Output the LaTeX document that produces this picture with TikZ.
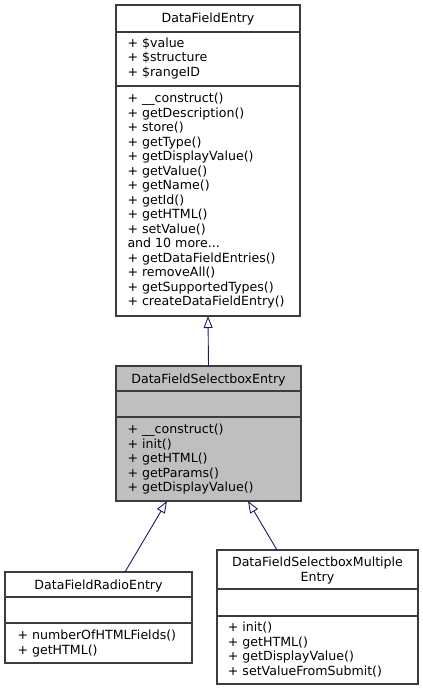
\documentclass[tikz,border=0pt]{standalone}
\usepackage{fontspec}
\setmainfont{DejaVu Sans}
\usetikzlibrary{arrows.meta,calc}
\definecolor{edgecol}{HTML}{191970}
\definecolor{framecol}{HTML}{3C3C3C}
\newcommand\tdots{...}
\newcommand\myrows[4]{\foreach \t [count=\i from 0] in {#4} \node[txt] (#1\i) at (#2,{#3+14.5*\i}) {\t};}
\begin{document}
\begin{tikzpicture}[x=1pt,y=-1pt,
  box/.style={draw=framecol,line width=1.2pt,fill=white,inner sep=0pt,outer sep=0pt,anchor=north west},
  hl/.style={box,fill=black!25},
  sepline/.style={draw=framecol,line width=1.2pt},
  txt/.style={anchor=base west,inner sep=0pt,font=\fontsize{12.6}{14.5}\selectfont},
  ttl/.style={anchor=base,inner sep=0pt,font=\fontsize{12.6}{14.5}\selectfont},
  inh/.style={draw=edgecol,line width=0.9pt,-{Triangle[open,length=12pt,width=9pt,fill=white]}}
]
\useasboundingbox (0,0) rectangle (423,691);

% DataFieldEntry
\node[box,minimum width=184pt,minimum height=311pt] (A) at (116,5) {};
\draw[sepline] (116,32) -- (300,32);
\draw[sepline] (116,86) -- (300,86);
\node[ttl] (At) at (208,22) {DataFieldEntry};
\myrows{Aa}{127.3}{47}{+ \$value,+ \$structure,+ \$rangeID}
\myrows{Am}{127.3}{102.5}{+ \_\_construct(),+ getDescription(),+ store(),+ getType(),+ getDisplayValue(),+ getValue(),+ getName(),+ getId(),+ getHTML(),+ setValue(),and 10 more\tdots,+ getDataFieldEntries(),+ removeAll(),+ getSupportedTypes(),+ createDataFieldEntry()}

% DataFieldSelectboxEntry
\node[hl,minimum width=185pt,minimum height=135pt] (B) at (116,366) {};
\draw[sepline] (116,391) -- (301,391);
\draw[sepline] (116,417) -- (301,417);
\node[ttl] (Bt) at (208.5,383) {DataFieldSelectboxEntry};
\myrows{Bm}{127.3}{433.5}{+ \_\_construct(),+ init(),+ getHTML(),+ getParams(),+ getDisplayValue()}

% DataFieldRadioEntry
\node[box,minimum width=187pt,minimum height=91pt] (C) at (5,572) {};
\draw[sepline] (5,597) -- (192,597);
\draw[sepline] (5,623) -- (192,623);
\node[ttl] (Ct) at (98.5,589) {DataFieldRadioEntry};
\myrows{Cm}{17.3}{639.5}{+ numberOfHTMLFields(),+ getHTML()}

% DataFieldSelectboxMultipleEntry
\node[box,minimum width=201pt,minimum height=134pt] (D) at (217,550) {};
\draw[sepline] (217,589) -- (418,589);
\draw[sepline] (217,616) -- (418,616);
\node[ttl] (Dt1) at (317.5,566.5) {DataFieldSelectboxMultiple};
\node[ttl] (Dt2) at (317.5,581) {Entry};
\myrows{Dm}{227.7}{631.5}{+ init(),+ getHTML(),+ getDisplayValue(),+ setValueFromSubmit()}

% inheritance
\coordinate (Bl) at (167,501);
\coordinate (Br) at (248,501);
\coordinate (Cn) at (125,572);
\coordinate (Dn) at (277,550);
\draw[inh] (B.north) -- (A.south);
\draw[inh] (Cn) -- (Bl);
\draw[inh] (Dn) -- (Br);
\end{tikzpicture}
\end{document}
